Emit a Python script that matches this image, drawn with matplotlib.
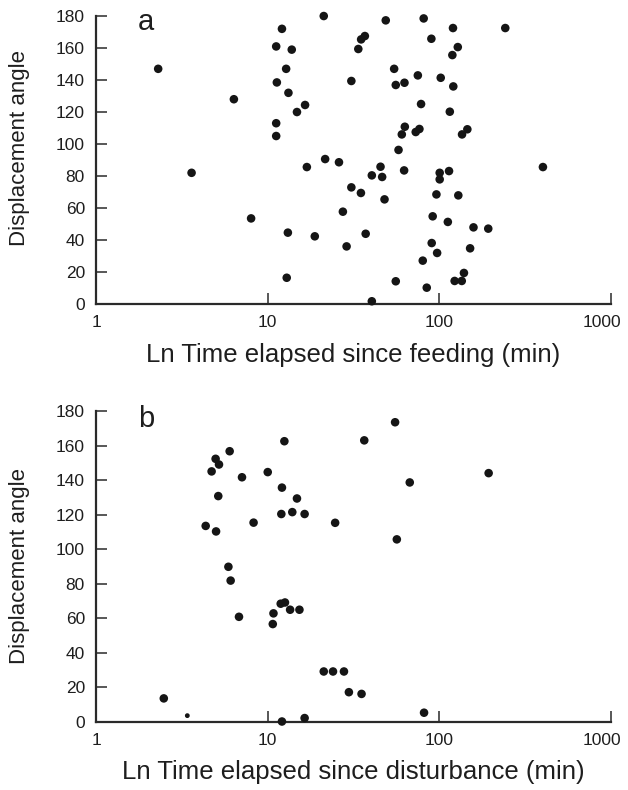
import matplotlib
matplotlib.use('Agg')
import matplotlib.pyplot as plt
import matplotlib.transforms as mtransforms
import numpy as np

plt.rcParams['font.family'] = ['Liberation Sans', 'DejaVu Sans']

# panel a: time since feeding (min) vs displacement angle
feed_time = [2.3, 3.6, 6.35, 8.0, 21.2, 12.1, 11.2, 13.8, 12.8, 11.3,
             13.2, 16.5, 14.8, 11.2, 11.2, 21.6, 26.0, 16.9, 13.1, 18.8,
             12.9, 48.7, 81.0, 120.0, 242.0, 36.8, 35.0, 33.7, 89.8, 128.0,
             119.0, 54.5, 30.7, 55.7, 62.6, 74.9, 101.8, 120.5, 78.2, 115.0,
             62.9, 60.4, 76.5, 72.8, 145.5, 135.5, 57.8, 45.4, 40.4, 46.4,
             62.3, 100.4, 100.4, 113.8, 401.0, 30.7, 34.9, 47.9, 96.1, 128.9,
             27.4, 91.4, 112.0, 158.0, 192.6, 37.2, 28.8, 90.2, 97.0, 151.0,
             80.0, 139.0, 122.7, 135.0, 55.7, 84.4, 40.4]
feed_angle = [147, 82, 128, 53.5, 180, 172, 161, 159, 147, 138.5,
              132, 124.4, 120, 113, 105, 90.6, 88.6, 85.6, 44.6, 42.3,
              16.4, 177.3, 178.5, 172.5, 172.5, 167.5, 165.4, 159.4, 165.8, 160.6,
              155.6, 147, 139.4, 136.9, 138.3, 142.9, 141.4, 136, 125, 120.2,
              110.8, 106, 109.4, 107.5, 109.2, 106, 96.3, 85.8, 80.4, 79.4,
              83.5, 82, 77.9, 83.1, 85.6, 72.9, 69.4, 65.4, 68.5, 67.9,
              57.7, 54.8, 51.3, 47.9, 47.1, 43.9, 36, 38.1, 31.9, 34.8,
              27.1, 19.4, 14.4, 14.4, 14.2, 10.2, 1.7]

# panel b: time since disturbance (min) vs displacement angle
dist_time = [55.2, 36.5, 193.6, 67.2, 24.7, 56.5, 12.5, 6.0, 4.97, 5.2,
             4.71, 7.08, 10.0, 12.1, 14.8, 5.15, 12.0, 13.9, 16.4, 4.35,
             5.0, 8.27, 5.9, 6.08, 6.8, 10.8, 10.7, 11.9, 12.6, 13.5,
             15.3, 2.48, 12.1, 16.4, 21.2, 24.0, 27.8, 29.7, 35.2, 81.4]
dist_angle = [173.5, 163, 144, 138.6, 115.2, 105.6, 162.5, 156.7, 152.3, 149,
              145, 141.6, 144.6, 135.6, 129.3, 130.7, 120.3, 121.4, 120.3, 113.4,
              110.2, 115.3, 89.7, 81.7, 60.7, 62.7, 56.5, 68.3, 69, 64.8,
              64.8, 13.4, 0, 2, 29, 29, 29, 17, 16, 5.1]
# one point drawn with a smaller dot in the original
dist_time_small = [3.4]
dist_angle_small = [3.4]

xticks = [1, 10, 100, 1000]
yticks = list(range(0, 181, 20))

fig = plt.figure(figsize=(6.28, 7.90), dpi=100)
ax_a = fig.add_axes([0.153, 0.6152, 0.820, 0.3645])
ax_b = fig.add_axes([0.153, 0.0867, 0.820, 0.3930])

txt = '#1e1e1e'
dot = '#151515'


def style(ax, xlabel, letter, ylab_y):
    ax.set_xscale('log')
    ax.set_xlim(1, 1000)
    ax.set_ylim(0, 180)
    ax.set_xticks(xticks)
    ax.set_xticklabels([str(t) for t in xticks])
    ax.set_yticks(yticks)
    ax.minorticks_off()
    for s in ['top', 'right']:
        ax.spines[s].set_visible(False)
    for s in ['left', 'bottom']:
        ax.spines[s].set_linewidth(1.6)
        ax.spines[s].set_color('#2a2a2a')
        ax.spines[s].set_clip_on(False)
    ax.tick_params(direction='in', length=8, width=1.1, color='#2a2a2a',
                   labelsize=12.5, labelcolor=txt, pad=8)
    # last x label sits a bit to the left so it stays inside the figure
    last = ax.get_xticklabels()[-1]
    last.set_transform(last.get_transform() +
                       mtransforms.ScaledTranslation(-9 / 100, 0, fig.dpi_scale_trans))
    ax.set_xlabel(xlabel, fontsize=18.5, color=txt, labelpad=9)
    ax.set_ylabel('Displacement angle', fontsize=16, color=txt)
    ax.yaxis.set_label_coords(-0.128, ylab_y)
    ax.text(0.097, 0.95, letter, transform=ax.transAxes, fontsize=21,
            color=txt, va='baseline', ha='center')


ax_a.scatter(feed_time, feed_angle, s=38, color=dot, edgecolors='none',
             clip_on=False, zorder=3)
style(ax_a, 'Ln Time elapsed since feeding (min)', 'a', 0.54)

ax_b.scatter(dist_time, dist_angle, s=38, color=dot, edgecolors='none',
             clip_on=False, zorder=3)
ax_b.scatter(dist_time_small, dist_angle_small, s=12, color=dot,
             edgecolors='none', clip_on=False, zorder=3)
style(ax_b, 'Ln Time elapsed since disturbance (min)', 'b', 0.5)

plt.savefig('out.png', dpi=100)
